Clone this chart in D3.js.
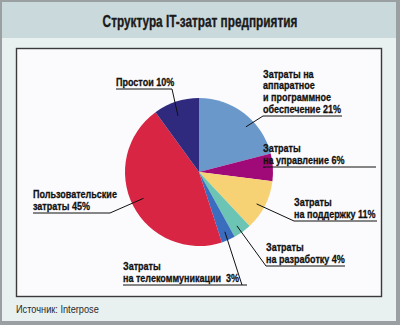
<!DOCTYPE html>
<html>
<head>
<meta charset="utf-8">
<script src="https://cdn.jsdelivr.net/npm/d3@7/dist/d3.min.js"></script>
<style>
  html, body { margin: 0; padding: 0; background: #ffffff; }
  svg { display: block; }
</style>
</head>
<body>
<svg id="chart" width="400" height="325"></svg>
<script>
// IT cost structure, percent of total, clockwise from 12 o'clock
const categories = [
  "Затраты на аппаратное и программное обеспечение",
  "Затраты на управление",
  "Затраты на поддержку",
  "Затраты на разработку",
  "Затраты на телекоммуникации",
  "Пользовательские затраты",
  "Простои"
];
const shares = [21, 6, 11, 4, 3, 45, 10];
const colors = ["#6b98cb", "#a00a78", "#f6d274", "#6cc4b4", "#3b6dbf", "#d82543", "#2f2a7e"];

// label text lines (last line carries the value)
const labelLines = [
  ["Затраты на", "аппаратное", "и программное", "обеспечение"],
  ["Затраты", "на управление"],
  ["Затраты", "на поддержку"],
  ["Затраты", "на разработку"],
  ["Затраты", "на телекоммуникации\u00a0"],
  ["Пользовательские", "затраты"],
  ["Простои"]
];

const title = "Структура IT-затрат предприятия";
const source = "Источник: Interpose";

// label layout: text origin (x, baseline of last line), underline end x,
// which end of underline the leader attaches to, and where it lands inside the slice
const labelLayout = [
  { x: 263, y: 113, ux: 342, side: "left",  t: 0.61, r: 0.88 },
  { x: 263, y: 164, ux: 376, side: "left",  t: 0.45, r: 0.89, leaderY: 167.5 },
  { x: 294, y: 218, ux: 377, side: "left",  t: 0.55, r: 0.89 },
  { x: 266, y: 263, ux: 345, side: "left",  t: 0.56, r: 0.89 },
  { x: 123, y: 282, ux: 247, side: "right", t: 0.50, r: 0.88, leaderX: 242 },
  { x: 33,  y: 210, ux: 110, side: "right", t: 0.51, r: 0.83 },
  { x: 116, y: 86,  ux: 172, side: "right", t: 0.43, r: 0.81 }
];

const svg = d3.select("#chart");
const W = 400, H = 325;
const FONT = "'Liberation Sans', Arial, sans-serif";

// condensed text: draws a string and squeezes it horizontally by factor f
function condensed(parent, x, y, str, opts) {
  const g = parent.append("g").attr("transform", `translate(${x},${y}) scale(${opts.f},1)`);
  const t = g.append("text")
    .attr("x", 0).attr("y", 0)
    .attr("text-anchor", opts.anchor || "start")
    .attr("font-family", FONT)
    .attr("font-weight", opts.bold ? "bold" : "normal")
    .attr("font-size", opts.size)
    .attr("fill", opts.fill || "#111")
    .style("white-space", "pre")
    .text(str);
  if (opts.heavy) t.attr("stroke", opts.fill || "#111").attr("stroke-width", opts.heavy);
  return t;
}
// width measurement helper for picking the squeeze factor
function measure(str, size, bold) {
  const t = svg.append("text").attr("font-family", FONT)
    .attr("font-weight", bold ? "bold" : "normal").attr("font-size", size).text(str);
  const w = t.node().getComputedTextLength();
  t.remove();
  return w;
}

// frame
svg.append("rect").attr("x", 0).attr("y", 0).attr("width", W).attr("height", H).attr("fill", "#9a9fa1");
svg.append("rect").attr("x", 2).attr("y", 2).attr("width", W - 6).attr("height", H - 6).attr("fill", "#e9f0f0");
svg.append("rect").attr("x", 2).attr("y", 2).attr("width", W - 6).attr("height", 36).attr("fill", "#cad9db");
svg.append("rect").attr("x", 16.5).attr("y", 48.5).attr("width", 365).attr("height", 248)
  .attr("fill", "#fbfbfd").attr("stroke", "#3a3a3a").attr("stroke-width", 1.4);

const titleF = 195 / measure(title, 16, true);
condensed(svg, 200, 26.5, title, { f: titleF, size: 16, bold: true, anchor: "middle", fill: "#1a1a1a", heavy: 0.35 });

const srcF = 83 / measure(source, 11.5, false);
condensed(svg, 16, 313, source, { f: srcF, size: 11.5, bold: false, fill: "#2a2a2a" });

// pie
const cx = 199, cy = 172, R = 74;
const pie = d3.pie().sort(null).value(d => d)(shares);
const arc = d3.arc().innerRadius(0).outerRadius(R);

const g = svg.append("g").attr("transform", `translate(${cx},${cy})`);
g.selectAll("path.slice")
  .data(pie)
  .join("path")
  .attr("class", "slice")
  .attr("d", arc)
  .attr("fill", (d, i) => colors[i]);

// labels with underline and leader
const LSIZE = 11;
const labelF = 84 / measure("Пользовательские", LSIZE, true);
const lg = svg.append("g");
pie.forEach((d, i) => {
  const L = labelLayout[i];
  const lines = labelLines[i].slice();
  lines[lines.length - 1] = lines[lines.length - 1] + " " + shares[i] + "%";
  const lh = 11.8;
  lines.forEach((s, k) => {
    condensed(lg, L.x, L.y - (lines.length - 1 - k) * lh, s, { f: labelF, size: LSIZE, bold: true, heavy: 0.3 });
  });
  const uy = L.y + 3;
  lg.append("line")
    .attr("x1", L.x).attr("x2", L.ux).attr("y1", uy).attr("y2", uy)
    .attr("stroke", "#111").attr("stroke-width", 1);
  // anchor point inside slice
  const a = d.startAngle + (d.endAngle - d.startAngle) * L.t;
  const pr = R * L.r;
  const px = cx + Math.sin(a) * pr, py = cy - Math.cos(a) * pr;
  let sx = L.side === "left" ? L.x : L.ux;
  if (L.leaderX !== undefined) sx = L.leaderX;
  if (L.leaderY !== undefined) {
    lg.append("line").attr("x1", px).attr("y1", L.leaderY).attr("x2", L.x).attr("y2", L.leaderY)
      .attr("stroke", "#111").attr("stroke-width", 1);
  } else {
    lg.append("line").attr("x1", sx).attr("y1", uy).attr("x2", px).attr("y2", py)
      .attr("stroke", "#111").attr("stroke-width", 1);
  }
});
</script>
</body>
</html>
